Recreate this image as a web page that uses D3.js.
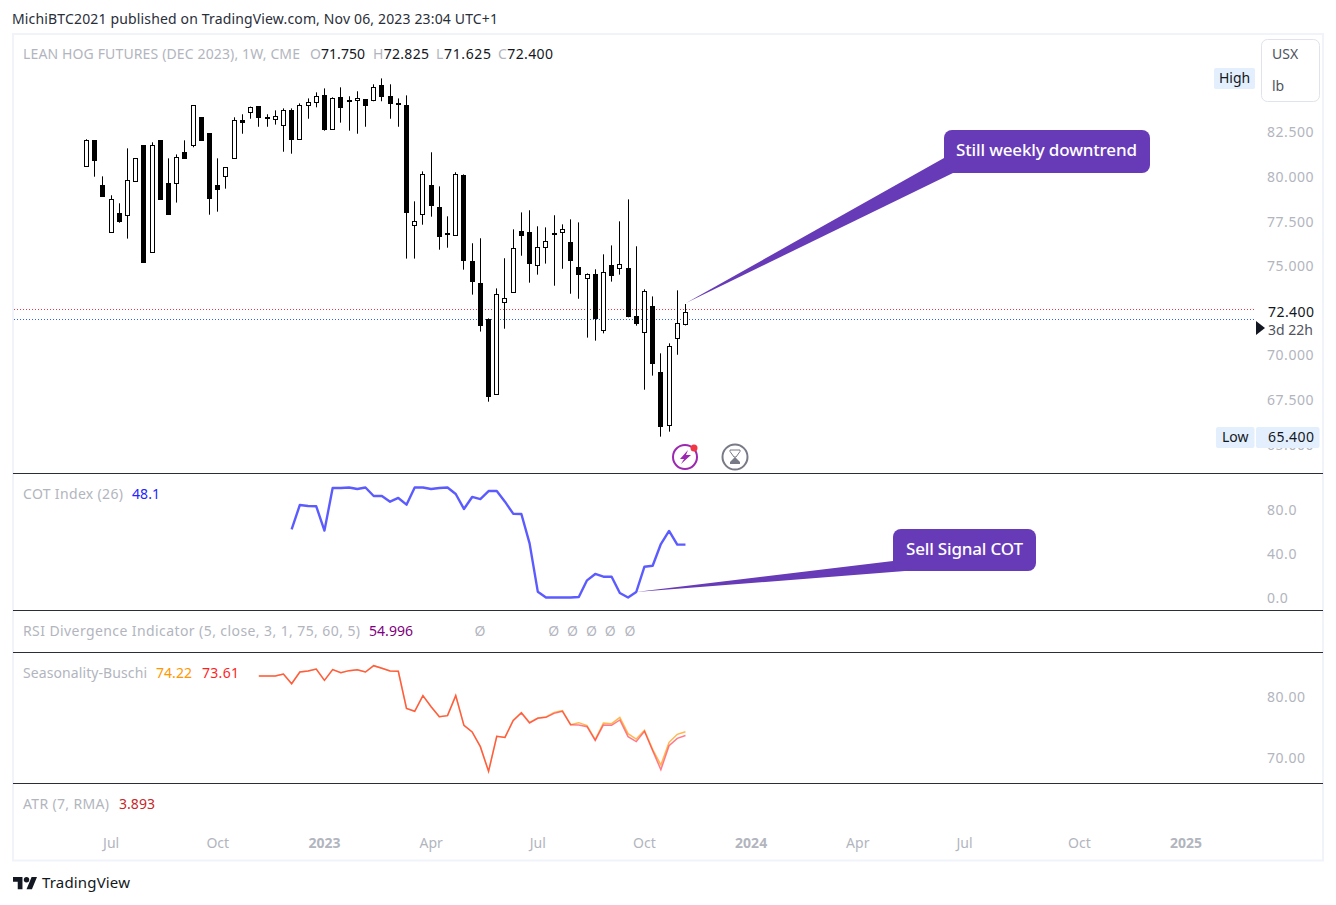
<!DOCTYPE html>
<html>
<head>
<meta charset="utf-8">
<script src="https://cdn.jsdelivr.net/npm/d3@7/dist/d3.min.js"></script>
<style>
    html, body { margin: 0; padding: 0; background: #fff; }
    svg { display: block; }
    text { font-family: "Noto Sans", sans-serif; }
</style>
</head>
<body>
<svg id="chart" width="1336" height="905"></svg>
<script>
// Weekly candles, index 0 is the first bar on the chart
const opens = [80.54,82.00,79.48,76.84,77.91,77.80,79.70,81.72,75.72,82.00,79.59,79.59,81.33,81.72,83.29,82.39,79.48,79.98,80.99,83.12,83.63,83.91,83.29,83.18,82.84,83.68,82.06,83.96,84.13,84.52,82.62,84.41,84.24,84.24,84.30,84.24,85.08,84.47,84.07,83.96,77.25,77.85,79.48,78.24,76.79,76.67,80.04,75.22,73.98,71.97,67.76,72.92,73.48,76.90,76.84,74.99,76.00,76.79,76.84,76.28,74.88,74.26,74.49,71.35,74.99,74.82,74.82,72.13,71.24,72.69,68.99,66.02,70.90,71.75];
const highs = [82.06,82.00,79.98,78.92,78.47,81.55,80.99,81.72,81.89,82.00,80.99,81.21,82.00,83.96,83.29,82.39,80.99,80.49,83.29,83.46,83.89,83.91,83.46,83.68,83.79,83.79,84.07,84.35,84.69,84.91,84.41,84.97,84.47,84.75,84.30,85.14,85.47,85.14,84.35,84.52,78.58,80.26,81.33,79.42,77.74,80.21,80.09,76.23,76.51,72.02,73.70,75.39,77.01,77.96,78.08,77.18,77.12,77.80,77.29,77.57,77.40,74.54,74.77,75.61,76.11,77.46,78.69,76.06,73.65,73.25,70.06,70.62,73.59,72.825];
const lows = [80.54,79.96,78.84,76.84,77.38,76.49,79.70,75.14,75.72,78.67,77.83,78.51,80.97,81.61,81.98,77.83,78.00,79.29,80.99,82.37,83.21,82.76,82.76,82.88,81.36,81.25,82.06,83.21,83.85,82.54,82.62,82.99,82.54,82.37,82.76,84.19,84.19,83.21,82.76,75.37,75.37,77.27,77.72,75.87,75.98,76.67,74.75,73.35,71.28,67.35,67.76,71.44,73.48,75.53,74.02,74.47,75.09,73.85,74.80,73.40,73.12,70.94,70.77,71.18,74.08,74.47,72.08,71.61,68.02,68.81,65.39,65.67,69.98,71.625];
const closes = [82.00,80.86,78.84,78.69,77.44,79.76,80.99,75.14,81.72,78.67,77.83,81.05,80.97,83.96,81.98,78.73,79.23,80.49,83.12,82.99,83.89,83.27,83.27,83.34,83.68,82.04,83.96,84.13,84.47,82.60,84.35,83.85,84.22,84.35,83.94,84.97,84.47,84.07,84.05,77.94,77.46,80.09,78.36,76.62,76.77,80.09,75.25,74.08,71.61,67.63,73.37,73.14,75.95,76.66,75.09,76.00,76.34,76.71,77.01,75.25,74.47,74.49,72.00,74.60,74.41,75.05,72.11,71.74,73.53,69.50,65.95,70.45,71.74,72.40];

// COT index starts at bar 25, seasonality at bar 21
const cotStart = 25;
const cotIndex = [62.0,84.1,83.2,82.9,60.8,99.5,99.5,100,98.6,100,92.3,92.3,87.1,90.5,84.4,100,100,98.6,99.5,100,94.1,80.5,91.4,89.5,96.8,96.8,87.1,76.2,75.9,49.2,5.3,0,0,0,0,0.4,15.6,21.4,18.9,18.9,4.1,0,5,28,28.9,48.6,60.5,48.1,48.1];
const seasonStart = 21;
const seasonRed = [83.36,83.36,83.36,83.69,82.10,84.02,84.18,84.51,82.65,84.40,83.91,84.24,84.40,84.02,85.05,84.62,84.18,84.13,78.06,77.57,80.14,78.33,76.69,76.86,80.14,75.27,74.18,71.78,67.73,73.47,73.30,76.04,77.30,75.66,76.42,76.58,77.24,77.57,75.38,75.33,75.05,72.81,75.33,75.27,76.15,73.42,72.60,74.29,71.12,68.00,71.94,73.14,73.61];
const seasonOrange = [83.36,83.36,83.36,83.69,82.10,84.02,84.18,84.51,82.65,84.40,83.91,84.24,84.40,84.02,85.05,84.62,84.18,84.13,78.06,77.57,80.14,78.33,76.69,76.86,80.14,75.27,74.18,71.78,67.73,73.47,73.30,76.10,77.38,75.75,76.48,76.64,77.40,77.68,75.38,75.71,75.22,72.92,75.66,75.55,76.58,73.91,73.03,74.45,71.34,68.77,72.49,73.80,74.22];

// RSI divergence markers, on bar positions
const rsiMarkers = [48,57,59.3,61.6,63.9,66.3];
const priceLines = [72.53,71.97];

// Axis ticks
const priceTicks = [65,67.5,70,75,77.5,80,82.5];
const cotTicks = [0,40,80];
const seasonTicks = [70,80];
const timeTickBars = [3,16,29,42,55,68,81,94,107,121,134];
const timeTickLabels = ['Jul','Oct','2023','Apr','Jul','Oct','2024','Apr','Jul','Oct','2025'];

const GREY = '#b2b5be';
const DARK = '#131722';
const PURPLE = '#673ab7';

let svg = d3.select('#chart');

/* Scales */
const xScale = d3.scaleLinear().domain([0,134]).range([86,1185.5]);
const yPrice = d3.scaleLinear().domain([80,67.5]).range([176,399]);
const yCot = d3.scaleLinear().domain([80,0]).range([509.5,597.5]);
const ySeason = d3.scaleLinear().domain([80,70]).range([696.5,757.5]);

// Snap a bar to the pixel grid so the 1px wicks stay crisp
const barX = (i) => Math.round(xScale(i)) + 0.5;

// Helper for all the free text on the chart, width stretches the spacing to match the original
function label(x, y, str, color, width, size, weight){
    let t = svg.append('text')
        .attr('x', x)
        .attr('y', y)
        .attr('dy', '.35em')
        .attr('fill', color)
        .attr('font-size', size || 14)
        .attr('font-weight', weight || 400)
        .text(str);
    if(width){
        t.attr('textLength', width).attr('lengthAdjust', 'spacing');
    }
    return t;
}

/* Frame and pane separators */
svg.append('rect')
    .attr('x', 13).attr('y', 34)
    .attr('width', 1310).attr('height', 826.5)
    .attr('fill', '#fff')
    .attr('stroke', '#f0f3fa')
    .attr('stroke-width', 2);

svg.selectAll('line.pane')
    .data([473.5,610.5,652.5,783.5])
    .enter()
    .append('line')
    .attr('class', 'pane')
    .attr('x1', 13).attr('x2', 1323)
    .attr('y1', (d) => d).attr('y2', (d) => d)
    .attr('stroke', '#2a2e39')
    .attr('stroke-width', 1);

/* Dotted price lines */
svg.selectAll('line.price-line')
    .data(priceLines)
    .enter()
    .append('line')
    .attr('class', 'price-line')
    .attr('x1', 14).attr('x2', 1256)
    .attr('y1', (d) => Math.round(yPrice(d)) + 0.5)
    .attr('y2', (d) => Math.round(yPrice(d)) + 0.5)
    .attr('stroke', (d, i) => i === 0 ? '#f23645' : '#2962ff')
    .attr('stroke-width', 1)
    .attr('stroke-dasharray', '1 2');

/* Candles */
const bars = d3.range(opens.length);
let candles = svg.append('g').attr('class', 'candles');

candles.selectAll('line')
    .data(bars)
    .enter()
    .append('line')
    .attr('x1', barX).attr('x2', barX)
    .attr('y1', (i) => yPrice(highs[i]))
    .attr('y2', (i) => yPrice(lows[i]))
    .attr('stroke', '#000')
    .attr('stroke-width', 1);

candles.selectAll('rect')
    .data(bars)
    .enter()
    .append('rect')
    .attr('x', (i) => barX(i) - 2)
    .attr('width', 4)
    .attr('y', (i) => Math.round(yPrice(Math.max(opens[i], closes[i]))) + 0.5)
    .attr('height', (i) => Math.max(1, Math.round(Math.abs(yPrice(opens[i]) - yPrice(closes[i])))))
    .attr('fill', (i) => closes[i] >= opens[i] ? '#fff' : '#000')
    .attr('stroke', '#000')
    .attr('stroke-width', 1);

/* Indicator lines */
svg.append('path')
    .attr('fill', 'none')
    .attr('stroke', '#5b5bff')
    .attr('stroke-width', 2.4)
    .attr('stroke-linejoin', 'round')
    .attr('d', d3.line()
        .x((d, i) => xScale(i + cotStart) + 0.5)
        .y((d) => yCot(d))
        (cotIndex));

const seasonLine = d3.line()
    .x((d, i) => xScale(i + seasonStart) + 0.5)
    .y((d) => ySeason(d));

svg.append('path')
    .attr('fill', 'none')
    .attr('stroke', '#ff9800')
    .attr('stroke-opacity', 0.7)
    .attr('stroke-width', 1.5)
    .attr('d', seasonLine(seasonOrange));

svg.append('path')
    .attr('fill', 'none')
    .attr('stroke', '#ff1f3c')
    .attr('stroke-opacity', 0.6)
    .attr('stroke-width', 1.5)
    .attr('d', seasonLine(seasonRed));

/* Axes */
function rightAxis(scale, ticks, fmt){
    let g = svg.append('g')
        .attr('transform', 'translate(1267,1)')
        .call(d3.axisRight(scale)
            .tickValues(ticks)
            .tickFormat(d3.format(fmt))
            .tickSize(0)
            .tickPadding(0));
    g.select('.domain').remove();
    g.selectAll('text')
        .attr('fill', GREY)
        .attr('font-size', 14)
        .attr('letter-spacing', 0.55)
        .style('font-family', '"Noto Sans", sans-serif');
}
rightAxis(yPrice, priceTicks, '.3f');
rightAxis(yCot, cotTicks, '.1f');
rightAxis(ySeason, seasonTicks, '.2f');

let timeAxis = svg.append('g')
    .attr('transform', 'translate(0,838)')
    .call(d3.axisBottom(xScale)
        .tickValues(timeTickBars)
        .tickFormat((d, i) => timeTickLabels[i])
        .tickSize(0)
        .tickPadding(0));
timeAxis.select('.domain').remove();
timeAxis.selectAll('text')
    .attr('fill', GREY)
    .attr('font-size', 14)
    .attr('font-weight', (d, i) => /^\d/.test(timeTickLabels[i]) ? 700 : 400)
    .style('font-family', '"Noto Sans", sans-serif');

/* Header and pane legends */
label(12, 19, 'MichiBTC2021 published on TradingView.com, Nov 06, 2023 23:04 UTC+1', '#2a2e39', 486);
label(23, 54, 'LEAN HOG FUTURES (DEC 2023), 1W, CME', GREY, 277);
[['O', '71.750', 310, 55], ['H', '72.825', 373, 56], ['L', '71.625', 436, 55], ['C', '72.400', 498, 55]].forEach((d) => {
    let t = label(d[2], 54, d[0], GREY, d[3]);
    t.append('tspan').attr('fill', DARK).text(d[1]);
});
label(23, 494, 'COT Index (26)', GREY, 100);
label(132, 494, '48.1', '#2424ff', 28);
label(23, 631, 'RSI Divergence Indicator (5, close, 3, 1, 75, 60, 5)', GREY, 337);
label(369, 631, '54.996', '#800080', 44);
label(23, 673, 'Seasonality-Buschi', GREY, 124);
label(156, 673, '74.22', '#ff9800', 36);
label(202, 673, '73.61', '#ff1f1f', 37);
label(23, 804, 'ATR (7, RMA)', GREY, 86);
label(119, 804, '3.893', '#c62828', 36);

svg.selectAll('text.rsi-marker')
    .data(rsiMarkers)
    .enter()
    .append('text')
    .attr('class', 'rsi-marker')
    .attr('x', (d) => xScale(d))
    .attr('y', 631)
    .attr('dy', '.35em')
    .attr('text-anchor', 'middle')
    .attr('font-size', 14)
    .attr('fill', GREY)
    .text('Ø');

/* Price scale labels */
svg.append('rect')
    .attr('x', 1261.5).attr('y', 39.5)
    .attr('width', 58).attr('height', 62).attr('rx', 6)
    .attr('fill', '#fff')
    .attr('stroke', '#e0e3eb');
label(1272, 54.5, 'USX', '#50535e');
label(1272, 86, 'lb', '#50535e');

svg.append('rect')
    .attr('x', 1214).attr('y', 68).attr('width', 41).attr('height', 21).attr('rx', 2)
    .attr('fill', '#e3effd');
label(1219, 78, 'High', DARK);

svg.append('rect')
    .attr('x', 1216).attr('y', 427).attr('width', 38.5).attr('height', 21).attr('rx', 2)
    .attr('fill', '#e3effd');
svg.append('rect')
    .attr('x', 1256).attr('y', 427).attr('width', 63.5).attr('height', 21).attr('rx', 2)
    .attr('fill', '#e3effd');
label(1222, 437.5, 'Low', DARK);
label(1268, 437.5, '65.400', DARK, 46);

label(1268, 312.5, '72.400', DARK, 46);
label(1268, 330.5, '3d 22h', '#50535e', 45);
svg.append('path')
    .attr('d', 'M1256,321L1265,328L1256,335Z')
    .attr('fill', DARK);

/* Callouts */
function callout(tip, x, y, w, h, tailA, tailB, str, textX, textW){
    svg.append('path')
        .attr('d', d3.line()([tip, tailA, tailB]) + 'Z')
        .attr('fill', PURPLE);
    svg.append('rect')
        .attr('x', x).attr('y', y)
        .attr('width', w).attr('height', h)
        .attr('rx', 8)
        .attr('fill', PURPLE);
    label(textX, y + h / 2 - 1, str, '#fff', textW, 17, 500);
}
callout([xScale(73) + 1, yPrice(72.825) - 1], 944, 130, 206, 43, [944, 158], [953, 173], 'Still weekly downtrend', 956, 181);
callout([xScale(67), yCot(5)], 893, 529, 143, 42, [893, 561], [905, 571], 'Sell Signal COT', 906, 117);

/* Bolt and hourglass badges under the last bar */
let bolt = svg.append('g').attr('transform', 'translate(685,457)');
bolt.append('circle').attr('r', 12).attr('fill', 'none').attr('stroke', '#9c27b0').attr('stroke-width', 2);
bolt.append('path').attr('d', 'M3,-7L-5,2L-1,2L-4,7L6,-2L1,-2Z').attr('fill', '#9c27b0');
bolt.append('circle').attr('cx', 9).attr('cy', -9).attr('r', 3.5).attr('fill', '#f23645');

let glass = svg.append('g').attr('transform', 'translate(735,457)');
glass.append('circle').attr('r', 12.5).attr('fill', 'none').attr('stroke', '#787b86').attr('stroke-width', 2);
glass.append('path').attr('d', 'M-5,-7H5V-5.5L1,0L-1,0L-5,-5.5Z').attr('fill', 'none').attr('stroke', '#787b86').attr('stroke-width', 1);
glass.append('path').attr('d', 'M-5,7H5V5L0,0L-5,5Z').attr('fill', '#787b86');

/* TradingView logo */
let logo = svg.append('g').attr('transform', 'translate(13,874.3) scale(0.676)').attr('fill', DARK);
logo.append('path').attr('d', 'M14 22H7V11H0V4h14v18zM28 22h-8l7.5-18h8L28 22z');
logo.append('circle').attr('cx', 20).attr('cy', 8).attr('r', 4);
label(42, 883, 'TradingView', DARK, 88, 15);
</script>
</body>
</html>
